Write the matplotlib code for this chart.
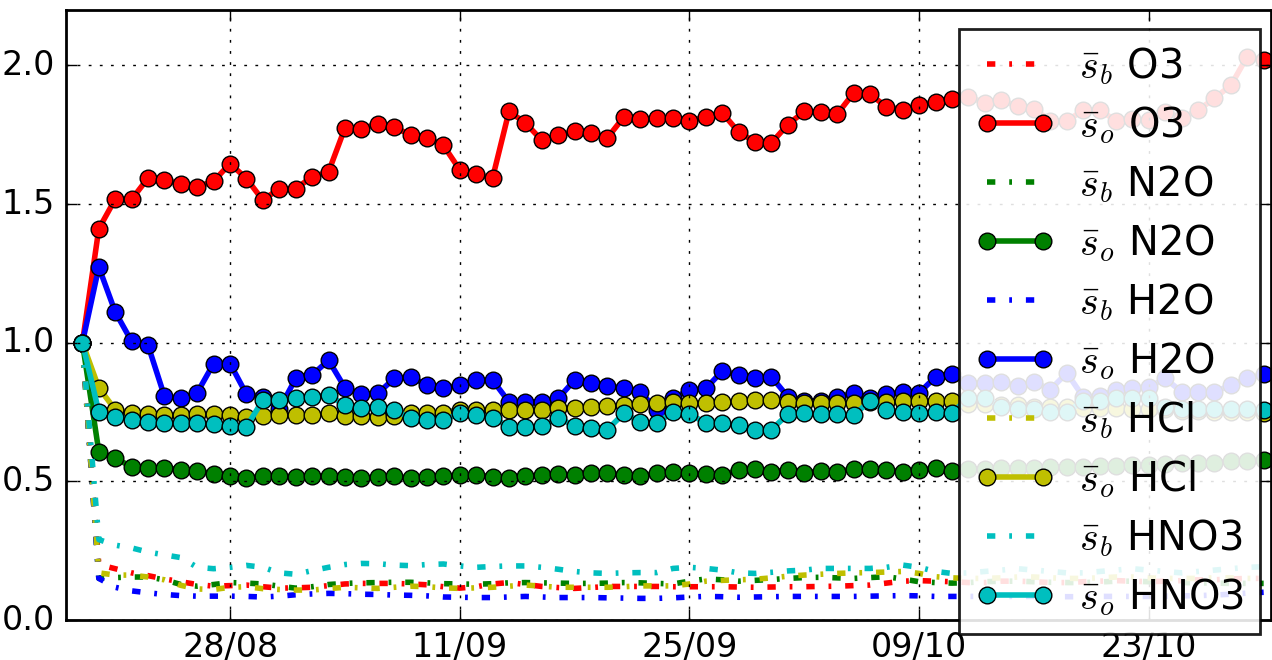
import matplotlib
matplotlib.use("Agg")
import pandas as pd
import matplotlib.dates as mdates
from matplotlib import pyplot as plt

# daily values, 19/08 .. 30/10
start_date = "2016-08-19"
end_date = "2016-10-30"
tick_dates = ["2016-08-28", "2016-09-11", "2016-09-25", "2016-10-09", "2016-10-23"]

species = ["O3", "N2O", "H2O", "HCl", "HNO3"]
colors = ["r", "g", "b", "y", "c"]

o3_b = [1.0, 0.20, 0.185, 0.17, 0.16, 0.148, 0.138, 0.128, 0.122, 0.124,
        0.126, 0.12, 0.115, 0.116, 0.118, 0.124, 0.13, 0.132, 0.132, 0.132,
        0.13, 0.127, 0.12, 0.115, 0.12, 0.13, 0.135, 0.128, 0.121, 0.117,
        0.114, 0.117, 0.121, 0.121, 0.121, 0.121, 0.12, 0.12, 0.12, 0.12,
        0.119, 0.118, 0.119, 0.12, 0.12, 0.121, 0.122, 0.124, 0.126, 0.133,
        0.14, 0.142, 0.14, 0.138, 0.135, 0.135, 0.14, 0.14, 0.138, 0.135,
        0.135, 0.138, 0.14, 0.142, 0.14, 0.138, 0.14, 0.142, 0.145, 0.145,
        0.148, 0.15, 0.15]
o3_o = [1.0, 1.411, 1.518, 1.517, 1.594, 1.588, 1.571, 1.562, 1.583, 1.646,
        1.592, 1.514, 1.556, 1.556, 1.598, 1.616, 1.774, 1.771, 1.790, 1.777,
        1.750, 1.738, 1.712, 1.624, 1.607, 1.594, 1.834, 1.793, 1.730, 1.748,
        1.762, 1.757, 1.739, 1.814, 1.808, 1.810, 1.810, 1.800, 1.814, 1.829,
        1.760, 1.724, 1.721, 1.787, 1.834, 1.832, 1.824, 1.900, 1.898, 1.850,
        1.840, 1.856, 1.869, 1.880, 1.886, 1.866, 1.876, 1.852, 1.844, 1.800,
        1.800, 1.838, 1.840, 1.800, 1.808, 1.802, 1.832, 1.811, 1.838, 1.882,
        1.928, 2.032, 2.018]

n2o_b = [1.0, 0.15, 0.153, 0.155, 0.155, 0.145, 0.128, 0.122, 0.128, 0.135,
         0.133, 0.13, 0.122, 0.115, 0.12, 0.128, 0.132, 0.134, 0.135, 0.136,
         0.136, 0.134, 0.131, 0.13, 0.129, 0.131, 0.134, 0.135, 0.134, 0.133,
         0.132, 0.132, 0.133, 0.135, 0.134, 0.132, 0.13, 0.14, 0.148, 0.145,
         0.14, 0.143, 0.146, 0.15, 0.153, 0.154, 0.152, 0.15, 0.153, 0.156,
         0.148, 0.138, 0.135, 0.133, 0.135, 0.138, 0.14, 0.14, 0.138, 0.136,
         0.135, 0.135, 0.137, 0.14, 0.14, 0.138, 0.136, 0.135, 0.134, 0.133,
         0.132, 0.132, 0.132]
n2o_o = [1.0, 0.607, 0.583, 0.553, 0.547, 0.550, 0.541, 0.538, 0.526, 0.519,
         0.511, 0.519, 0.519, 0.517, 0.519, 0.519, 0.517, 0.511, 0.517, 0.519,
         0.511, 0.517, 0.519, 0.523, 0.523, 0.517, 0.511, 0.519, 0.523, 0.526,
         0.523, 0.529, 0.529, 0.523, 0.519, 0.529, 0.535, 0.531, 0.525, 0.523,
         0.541, 0.543, 0.535, 0.541, 0.531, 0.538, 0.535, 0.544, 0.543, 0.541,
         0.535, 0.541, 0.547, 0.537, 0.545, 0.545, 0.548, 0.548, 0.550, 0.552,
         0.552, 0.553, 0.555, 0.555, 0.558, 0.560, 0.562, 0.565, 0.565, 0.568,
         0.572, 0.575, 0.577]

h2o_b = [1.0, 0.15, 0.118, 0.105, 0.098, 0.092, 0.088, 0.086, 0.086, 0.086,
         0.085, 0.083, 0.086, 0.091, 0.094, 0.096, 0.095, 0.093, 0.092, 0.09,
         0.089, 0.087, 0.083, 0.082, 0.081, 0.081, 0.083, 0.085, 0.083, 0.081,
         0.081, 0.081, 0.08, 0.079, 0.078, 0.078, 0.08, 0.083, 0.085, 0.084,
         0.082, 0.083, 0.084, 0.085, 0.085, 0.085, 0.085, 0.085, 0.086, 0.087,
         0.088, 0.087, 0.085, 0.085, 0.085, 0.085, 0.085, 0.085, 0.085, 0.084,
         0.084, 0.084, 0.085, 0.085, 0.085, 0.085, 0.086, 0.087, 0.088, 0.09,
         0.093, 0.097, 0.10]
h2o_o = [1.0, 1.273, 1.111, 1.005, 0.991, 0.807, 0.799, 0.820, 0.925, 0.925,
         0.814, 0.805, 0.760, 0.871, 0.883, 0.937, 0.838, 0.814, 0.817, 0.871,
         0.877, 0.847, 0.835, 0.847, 0.865, 0.865, 0.787, 0.787, 0.787, 0.799,
         0.865, 0.853, 0.843, 0.837, 0.823, 0.759, 0.800, 0.829, 0.835, 0.898,
         0.883, 0.871, 0.877, 0.805, 0.790, 0.790, 0.805, 0.817, 0.800, 0.814,
         0.823, 0.819, 0.877, 0.889, 0.853, 0.853, 0.859, 0.843, 0.859, 0.831,
         0.891, 0.805, 0.807, 0.831, 0.838, 0.840, 0.871, 0.823, 0.823, 0.823,
         0.847, 0.871, 0.886]

hcl_b = [1.0, 0.17, 0.162, 0.162, 0.155, 0.145, 0.125, 0.112, 0.11, 0.118,
         0.12, 0.113, 0.11, 0.108, 0.108, 0.113, 0.118, 0.116, 0.114, 0.118,
         0.122, 0.12, 0.116, 0.114, 0.116, 0.118, 0.122, 0.126, 0.122, 0.118,
         0.118, 0.118, 0.118, 0.12, 0.123, 0.123, 0.123, 0.13, 0.14, 0.143,
         0.145, 0.147, 0.152, 0.158, 0.162, 0.165, 0.168, 0.17, 0.171, 0.173,
         0.175, 0.168, 0.156, 0.152, 0.15, 0.15, 0.152, 0.155, 0.155, 0.152,
         0.15, 0.15, 0.152, 0.155, 0.155, 0.152, 0.15, 0.15, 0.15, 0.152,
         0.152, 0.15, 0.15]
hcl_o = [1.0, 0.837, 0.759, 0.745, 0.742, 0.739, 0.739, 0.742, 0.742, 0.739,
         0.733, 0.735, 0.739, 0.741, 0.739, 0.745, 0.737, 0.737, 0.733, 0.737,
         0.745, 0.745, 0.747, 0.759, 0.759, 0.759, 0.757, 0.757, 0.759, 0.763,
         0.766, 0.769, 0.771, 0.775, 0.778, 0.783, 0.787, 0.783, 0.783, 0.787,
         0.790, 0.793, 0.793, 0.787, 0.783, 0.783, 0.783, 0.783, 0.785, 0.787,
         0.790, 0.790, 0.790, 0.790, 0.78, 0.78, 0.775, 0.775, 0.77, 0.77,
         0.77, 0.765, 0.765, 0.765, 0.76, 0.76, 0.76, 0.755, 0.755, 0.75,
         0.75, 0.75, 0.745]

hno3_b = [1.0, 0.29, 0.27, 0.26, 0.245, 0.235, 0.225, 0.19, 0.185, 0.19,
          0.197, 0.19, 0.17, 0.165, 0.178, 0.19, 0.20, 0.204, 0.203, 0.198,
          0.196, 0.20, 0.202, 0.195, 0.19, 0.193, 0.195, 0.195, 0.19, 0.183,
          0.175, 0.17, 0.168, 0.17, 0.171, 0.171, 0.186, 0.19, 0.186, 0.18,
          0.17, 0.168, 0.172, 0.177, 0.18, 0.186, 0.186, 0.186, 0.186, 0.19,
          0.198, 0.19, 0.175, 0.168, 0.17, 0.175, 0.18, 0.185, 0.18, 0.175,
          0.17, 0.17, 0.175, 0.18, 0.185, 0.18, 0.175, 0.17, 0.175, 0.18,
          0.185, 0.19, 0.192]
hno3_o = [1.0, 0.751, 0.733, 0.723, 0.715, 0.711, 0.709, 0.709, 0.706, 0.699,
          0.697, 0.793, 0.793, 0.801, 0.805, 0.811, 0.775, 0.765, 0.769, 0.759,
          0.727, 0.721, 0.721, 0.745, 0.739, 0.730, 0.697, 0.697, 0.699, 0.729,
          0.700, 0.693, 0.687, 0.745, 0.715, 0.709, 0.751, 0.742, 0.711, 0.709,
          0.703, 0.685, 0.687, 0.742, 0.745, 0.742, 0.742, 0.739, 0.789, 0.757,
          0.751, 0.745, 0.751, 0.748, 0.80, 0.80, 0.77, 0.76, 0.76, 0.75,
          0.75, 0.79, 0.79, 0.80, 0.80, 0.80, 0.77, 0.76, 0.76, 0.76,
          0.76, 0.76, 0.757]

s_b = [o3_b, n2o_b, h2o_b, hcl_b, hno3_b]
s_o = [o3_o, n2o_o, h2o_o, hcl_o, hno3_o]

dates = pd.date_range(start_date, end_date, freq="D")

plt.style.use("classic")
plt.rcParams["mathtext.fontset"] = "cm"

fig = plt.figure(figsize=(6.36, 3.3), dpi=200, facecolor="white")
ax = fig.add_axes([66 / 1272, 40 / 660, 1204.5 / 1272, 610 / 660])

for name, c, b, o in zip(species, colors, s_b, s_o):
    ax.plot(dates, b, "-.", color=c, lw=2, label=r"$\bar{s}_b$ " + name)
    ax.plot(dates, o, "-o", color=c, lw=2, ms=6, label=r"$\bar{s}_o$ " + name)

ax.set_ylim(0, 2.2)
ax.set_yticks([0.0, 0.5, 1.0, 1.5, 2.0])
ax.set_xlim(pd.Timestamp("2016-08-18"), pd.Timestamp("2016-10-30 10:00"))
ax.set_xticks(pd.to_datetime(tick_dates))
ax.xaxis.set_major_formatter(mdates.DateFormatter("%d/%m"))
ax.grid(True)

ax.legend(loc="upper right", bbox_to_anchor=(1260 / 1272, 631 / 660),
          bbox_transform=fig.transFigure, borderaxespad=0, numpoints=2,
          fontsize=14.4, framealpha=0.88, fancybox=False,
          borderpad=0.4, labelspacing=0.43,
          handlelength=2.0, handletextpad=0.6)

fig.savefig("out.png", dpi=200, facecolor="white")
